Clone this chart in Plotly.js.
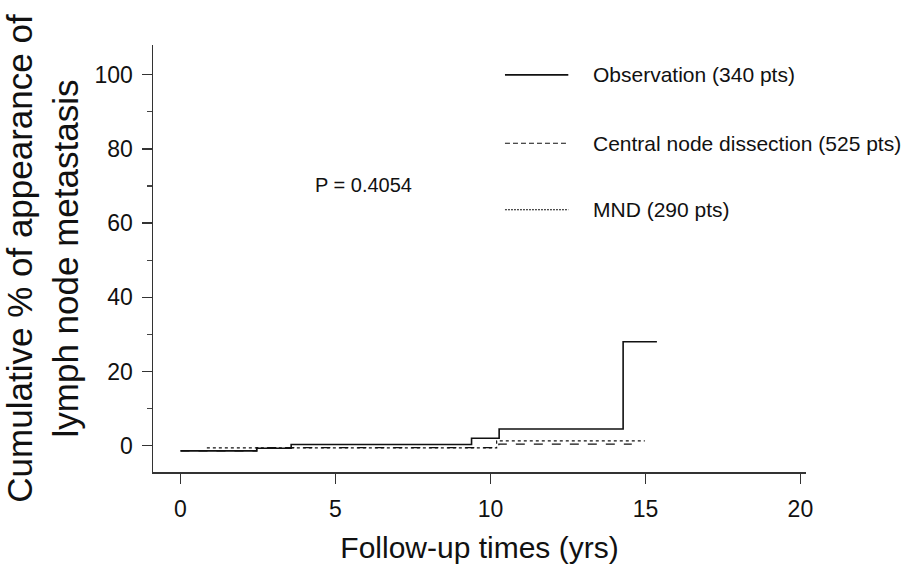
<!DOCTYPE html>
<html>
<head>
<meta charset="utf-8">
<script src="https://cdn.plot.ly/plotly-3.0.1.min.js"></script>
<style>html,body{margin:0;padding:0;background:#fff;}#chart{width:904px;height:574px;}</style>
</head>
<body>
<div id="chart"></div>
<script>
// Step-curve change points (years) and cumulative % values
const obsX = [0, 2.46, 3.57, 9.39, 10.28, 14.28, 15.37];
const obsY = [-1.4, -0.7, 0.3, 2.0, 4.5, 28.0, 28.0];
const cndX = [0, 2.46, 10.27, 14.56];
const cndY = [-1.4, -0.55, 0.4, 0.4];
const mndX = [0.85, 10.2, 14.98];
const mndY = [-0.6, 1.3, 1.3];
const seriesNames = ["Observation (340 pts)", "Central node dissection (525 pts)", "MND (290 pts)"];
const xTicks = [0, 5, 10, 15, 20];
const yTicks = [0, 20, 40, 60, 80, 100];
const pText = "P = 0.4054";

const font = "Liberation Sans, Arial, sans-serif";
const ink = "#111";

const traces = [
  {x: obsX, y: obsY, mode: "lines", line: {shape: "hv", color: ink, width: 1.6, dash: "solid"}, name: seriesNames[0]},
  {x: cndX, y: cndY, mode: "lines", line: {shape: "hv", color: ink, width: 1.2, dash: "dash"}, name: seriesNames[1]},
  {x: mndX, y: mndY, mode: "lines", line: {shape: "hv", color: ink, width: 1.2, dash: "dot"}, name: seriesNames[2]}
];

const legendY = [0.930, 0.770, 0.614];
const legendDash = ["solid", "5px,3px", "2px,1px"];
const legendWidth = [1.6, 1.1, 1.1];
const shapes = seriesNames.map((n, i) => ({
  type: "line", xref: "paper", yref: "paper", x0: 0.539, x1: 0.636, y0: legendY[i], y1: legendY[i],
  line: {color: ink, width: legendWidth[i], dash: legendDash[i]}
}));
const annotations = seriesNames.map((n, i) => ({
  xref: "paper", yref: "paper", x: 0.670, y: legendY[i], xanchor: "left", yanchor: "middle",
  text: n, showarrow: false, font: {family: font, size: 21, color: ink}
}));
annotations.push({xref: "x", yref: "y", x: 5.9, y: 70.3, text: pText, showarrow: false,
  xanchor: "center", yanchor: "middle", font: {family: font, size: 20, color: ink}});

const layout = {
  width: 904, height: 574,
  margin: {l: 153, r: 98, t: 45, b: 102},
  paper_bgcolor: "#fff", plot_bgcolor: "#fff",
  showlegend: false,
  xaxis: {
    range: [-0.887, 20.18], showgrid: false, zeroline: false,
    showline: true, linecolor: "#333", linewidth: 1.5,
    tickmode: "array", tickvals: xTicks, ticktext: xTicks.map(String),
    ticks: "outside", ticklen: 10, tickwidth: 1.3, tickcolor: "#333",
    ticklabelstandoff: 6,
    tickfont: {family: font, size: 23, color: ink},
    title: {text: "Follow-up times (yrs)", font: {family: font, size: 30, color: ink}, standoff: 16},
    automargin: false
  },
  yaxis: {
    range: [-7.1, 108], showgrid: false, zeroline: false,
    showline: true, linecolor: "#333", linewidth: 1.5,
    tickmode: "array", tickvals: yTicks, ticktext: yTicks.map(String),
    ticks: "outside", ticklen: 10, tickwidth: 1.3, tickcolor: "#333",
    ticklabelstandoff: 4,
    minor: {dtick: 10, tick0: 0, ticks: "outside", ticklen: 5, tickwidth: 1.2, tickcolor: "#444"},
    tickfont: {family: font, size: 23, color: ink},
    title: {text: "Cumulative % of appearance of<br>lymph node metastasis", font: {family: font, size: 35, color: ink}, standoff: 19},
    automargin: false
  },
  shapes: shapes,
  annotations: annotations
};

Plotly.newPlot("chart", traces, layout, {displayModeBar: false, staticPlot: true});
</script>
</body>
</html>
